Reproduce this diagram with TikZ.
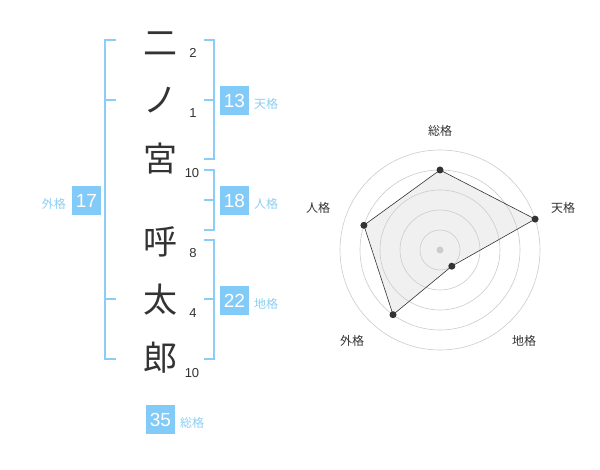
\documentclass[tikz,border=0pt]{standalone}
\usepackage{fontspec}
\setmainfont{Liberation Sans}
\newfontfamily\jp{Noto Sans CJK JP}
\definecolor{boxblue}{HTML}{82CAF8}
\definecolor{lineblue}{HTML}{8ACEF8}
\definecolor{lblblue}{HTML}{8CCFF5}
\definecolor{ink}{HTML}{333333}
\definecolor{ringgray}{HTML}{CCCCCC}
\definecolor{areafill}{HTML}{F0F0F0}
\tikzset{
  kanji/.style={font=\jp\fontsize{34}{34}\selectfont, text=ink, inner sep=0pt, anchor=center},
  strokes/.style={font=\fontsize{13}{13}\selectfont, text=ink, inner sep=0pt},
  br/.style={draw=lineblue, line width=2pt},
  valbox/.style={fill=boxblue, text=white, minimum width=29pt, minimum height=29pt, inner sep=0pt, font=\fontsize{19}{19}\selectfont},
  kaku/.style={font=\jp\fontsize{12}{12}\selectfont, text=lblblue, inner sep=0pt},
  ring/.style={draw=ringgray, line width=0.6pt},
  rlabel/.style={font=\jp\fontsize{12}{12}\selectfont, text=ink, inner sep=0pt},
  rdot/.style={circle, fill=ink, inner sep=0pt, minimum size=7pt},
}
\begin{document}
\begin{tikzpicture}[x=1pt,y=-1pt]
\useasboundingbox[fill=white] (0,0) rectangle (600,470);
% name characters
\node[kanji] (k1) at (160,44) {二};
\node[kanji] (k2) at (160,100) {ノ};
\node[kanji] (k3) at (160,159) {宮};
\node[kanji] (k4) at (160,242) {呼};
\node[kanji] (k5) at (160,300) {太};
\node[kanji] (k6) at (160,358) {郎};
% stroke counts
\node[strokes] (s1) at (193,53) {2};
\node[strokes] (s2) at (193,113) {1};
\node[strokes] (s3) at (192,173) {10};
\node[strokes] (s4) at (193,253) {8};
\node[strokes] (s5) at (193,313) {4};
\node[strokes] (s6) at (192,373) {10};
% brackets
\draw[br] (116,40) -- (105,40) -- (105,359) -- (116,359);
\draw[br] (105,100) -- (116,100);
\draw[br] (105,299) -- (116,299);
\draw[br] (204,40) -- (214,40) -- (214,159) -- (204,159);
\draw[br] (214,100) -- (204,100);
\draw[br] (204,170) -- (214,170) -- (214,230) -- (204,230);
\draw[br] (214,200) -- (204,200);
\draw[br] (204,240) -- (214,240) -- (214,359) -- (204,359);
\draw[br] (214,299) -- (204,299);
% values
\node[valbox] (v13) at (234.5,100.5) {13};
\node[kaku, anchor=west] (t13) at (254,104) {天格};
\node[valbox] (v18) at (234.5,200.5) {18};
\node[kaku, anchor=west] (t18) at (254,204) {人格};
\node[valbox] (v22) at (234.5,300.5) {22};
\node[kaku, anchor=west] (t22) at (254,304) {地格};
\node[valbox] (v17) at (86.5,200.5) {17};
\node[kaku, anchor=east] (t17) at (66,204) {外格};
\node[valbox] (v35) at (160.5,419.5) {35};
\node[kaku, anchor=west] (t35) at (180,423) {総格};
% radar
\coordinate (c) at (440,250);
\coordinate (p1) at (440,170);
\coordinate (p2) at (535.1,219.1);
\coordinate (p3) at (451.8,266.2);
\coordinate (p4) at (393.0,314.7);
\coordinate (p5) at (363.9,225.3);
\fill[areafill] (p1) -- (p2) -- (p3) -- (p4) -- (p5) -- cycle;
\foreach \r in {20,40,60,80,100} \draw[ring] (c) circle[radius=\r];
\draw[draw=ink, line width=0.6pt] (p1) -- (p2) -- (p3) -- (p4) -- (p5) -- cycle;
\fill[ringgray] (c) circle[radius=3.5];
\foreach \p in {p1,p2,p3,p4,p5} \node[rdot] at (\p) {};
\node[rlabel] (l1) at (440,131) {総格};
\node[rlabel] (l2) at (563,208) {天格};
\node[rlabel] (l3) at (524,341) {地格};
\node[rlabel] (l4) at (352,341) {外格};
\node[rlabel] (l5) at (318,208) {人格};
\end{tikzpicture}
\end{document}
